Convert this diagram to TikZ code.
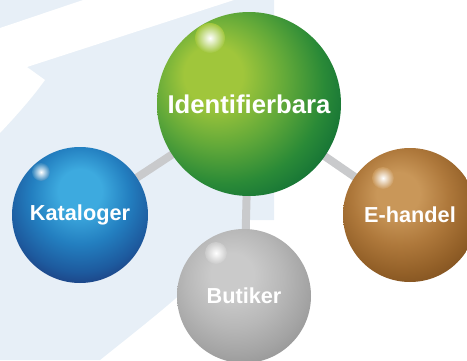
\documentclass[tikz,border=0pt]{standalone}
\usepackage{fontspec}
\setmainfont{Liberation Sans}
\usepackage{tikz}
\usetikzlibrary{backgrounds}

\definecolor{bgblue}{HTML}{E7EFF7}
\definecolor{linkgray}{HTML}{C9CACC}

\definecolor{gHi}{HTML}{A0C63B}
\definecolor{gMid}{HTML}{62A939}
\definecolor{gDark}{HTML}{2A8A37}
\definecolor{gDeep}{HTML}{127036}
\definecolor{gEdge}{HTML}{0B5A2D}
\definecolor{bHi}{HTML}{3DAADF}
\definecolor{bMid}{HTML}{237FC0}
\definecolor{bDark}{HTML}{1D5A9E}
\definecolor{bDeep}{HTML}{1C3475}
\definecolor{bEdge}{HTML}{1A2762}
\definecolor{brHi}{HTML}{C99759}
\definecolor{brMid}{HTML}{AE783B}
\definecolor{brDark}{HTML}{936028}
\definecolor{brDeep}{HTML}{7C4E1E}
\definecolor{brEdge}{HTML}{6B4016}
\definecolor{sHi}{HTML}{CACACA}
\definecolor{sMid}{HTML}{B8B8B8}
\definecolor{sDark}{HTML}{A4A4A4}
\definecolor{sDeep}{HTML}{929292}
\definecolor{sEdge}{HTML}{848484}

\pgfdeclareradialshading{greenball}{\pgfpoint{-11bp}{9bp}}{color(0bp)=(gHi); color(8bp)=(gHi); color(18bp)=(gMid); color(27bp)=(gDark); color(34bp)=(gDeep); color(38bp)=(gEdge); color(68bp)=(gEdge)}
\pgfdeclareradialshading{blueball}{\pgfpoint{0bp}{10bp}}{color(0bp)=(bHi); color(8bp)=(bHi); color(18bp)=(bMid); color(27bp)=(bDark); color(34bp)=(bDeep); color(38bp)=(bEdge); color(68bp)=(bEdge)}
\pgfdeclareradialshading{brownball}{\pgfpoint{-5bp}{9bp}}{color(0bp)=(brHi); color(8bp)=(brHi); color(18bp)=(brMid); color(27bp)=(brDark); color(34bp)=(brDeep); color(38bp)=(brEdge); color(68bp)=(brEdge)}
\pgfdeclareradialshading{silverball}{\pgfpoint{-5bp}{9bp}}{color(0bp)=(sHi); color(8bp)=(sHi); color(18bp)=(sMid); color(27bp)=(sDark); color(34bp)=(sDeep); color(38bp)=(sEdge); color(68bp)=(sEdge)}

\tikzset{
  ball/.style={circle, inner sep=0pt, text=white, font=\bfseries\fontsize{21.7}{22}\selectfont},
  link/.style={linkgray, line width=8pt}
}

\begin{document}
\begin{tikzpicture}[x=1pt, y=-1pt]
\useasboundingbox (0,0) rectangle (467,360);

\node[ball, shading=greenball, minimum size=184pt, font=\bfseries\fontsize{25.7}{26}\selectfont] (ident) at (249,104) {Identifierbara};
\node[ball, shading=blueball, minimum size=136pt] (katalog) at (80,215) {Kataloger};
\node[ball, shading=silverball, minimum size=134pt] (butik) at (244,296) {Butiker};
\node[ball, shading=brownball, minimum size=134pt] (handel) at (410,215) {E-handel};

% highlights
\shade[inner color=white, outer color=gHi] (210,38) circle (15);
\shade[inner color=white, outer color=bHi!70!bDeep] (41,172) circle (9);
\shade[inner color=white, outer color=sHi] (216,253) circle (11);
\shade[inner color=white, outer color=brHi] (383,178) circle (11);

\begin{scope}[on background layer]
% light blue backdrop
\fill[bgblue] (0,0) -- (274,0) -- (274,220) -- (250,220) .. controls (215,270) and (160,312) .. (100,360) -- (0,360) -- cycle;
\fill[white] (0,28) -- (83,0) -- (234,0) -- (27,67) -- (45,80) .. controls (32,98) and (16,116) .. (0,133) -- cycle;

\draw[link] (ident.center) -- (katalog.center);
\draw[link] (ident.center) -- (butik.center);
\draw[link] (ident.center) -- (handel.center);
\end{scope}
\end{tikzpicture}
\end{document}
